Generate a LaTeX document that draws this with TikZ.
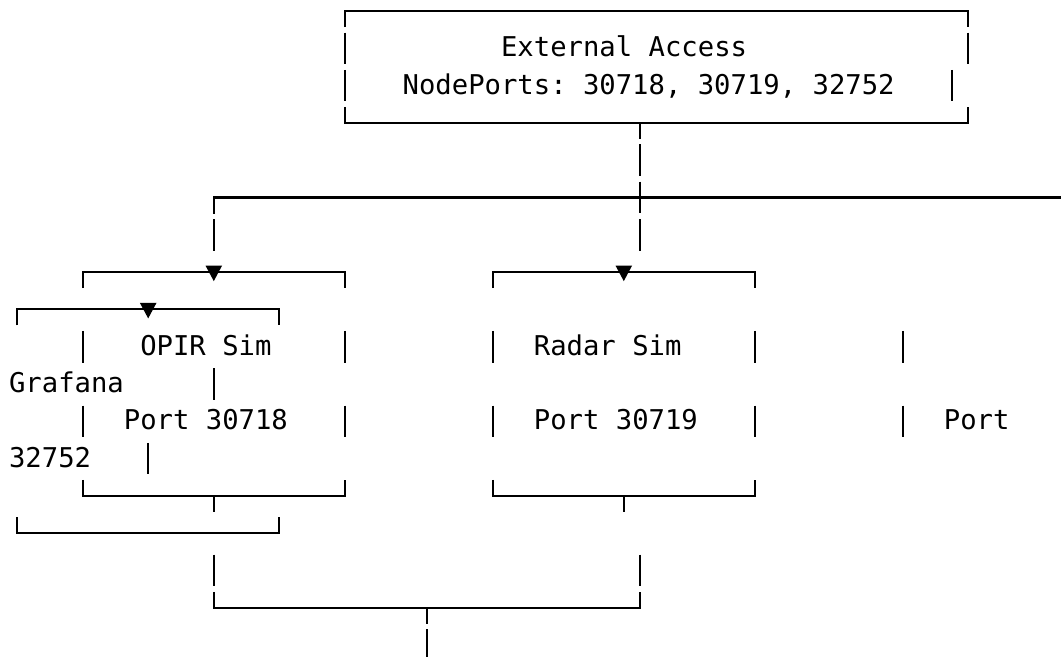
\documentclass[tikz,border=0pt]{standalone}
\usepackage{fontspec}
\setmonofont{DejaVu Sans Mono}
\newcommand\myV[2]{\draw[ln] ({cx(#1)},{ry(#2)-15.8}) -- ({cx(#1)},{ry(#2)+15.8});}
\newcommand\myD[2]{\draw[ln] ({cx(#1)},{ry(#2)}) -- ({cx(#1)},{ry(#2)+16});}
\newcommand\myTop[3]{\draw[ln] ({cx(#1)},{ry(#3)+16}) -- ({cx(#1)},{ry(#3)}) -- ({cx(#2)},{ry(#3)}) -- ({cx(#2)},{ry(#3)+16});}
\newcommand\myBot[3]{\draw[ln] ({cx(#1)},{ry(#3)-16}) -- ({cx(#1)},{ry(#3)}) -- ({cx(#2)},{ry(#3)}) -- ({cx(#2)},{ry(#3)-16});}
\newcommand\myT[2]{\fill ({cx(#1)-8.3},{ry(#2)-6.5}) -- ({cx(#1)+8.3},{ry(#2)-6.5}) -- ({cx(#1)},{ry(#2)+9}) -- cycle;}
\begin{document}
\begin{tikzpicture}[x=0.75pt,y=-0.75pt,
  declare function={cx(\c)=8.8+(\c+0.5)*16.4; tx(\c)=8.8+\c*16.4; ry(\r)=11+37.3*\r; by(\r)=11+37.3*\r+8.5;},
  ln/.style={line width=1.6pt, line cap=butt, line join=miter},
  txt/.style={anchor=base west, inner sep=0pt, font=\ttfamily\fontsize{20.43}{24}\selectfont}]
\useasboundingbox (0,0) rectangle (1061,657);
% External access box
\myTop{20}{58}{0}
\myV{20}{1} \myV{58}{1}
\node[txt] (ext) at ({tx(30)},{by(1)}) {External Access};
\myV{20}{2} \myV{57}{2}
\node[txt] (np) at ({tx(24)},{by(2)}) {NodePorts: 30718, 30719, 32752};
\myBot{20}{58}{3}
\myD{38}{3}
\myV{38}{4}
% distribution line
\draw[ln] ({cx(12)},{ry(5)+16}) -- ({cx(12)},{ry(5)}) -- (1061,{ry(5)});
\myV{38}{5}
\myV{12}{6} \myV{38}{6}
% box tops
\myTop{4}{20}{7} \myT{12}{7}
\myTop{29}{45}{7} \myT{37}{7}
\myTop{0}{16}{8} \myT{8}{8}
% rows of content
\myV{4}{9} \myV{20}{9} \myV{29}{9} \myV{45}{9} \myV{54}{9}
\node[txt] (opir) at ({tx(8)},{by(9)}) {OPIR Sim};
\node[txt] (radar) at ({tx(32)},{by(9)}) {Radar Sim};
\node[txt] (graf) at ({tx(0)},{by(10)}) {Grafana};
\myV{12}{10}
\myV{4}{11} \myV{20}{11} \myV{29}{11} \myV{45}{11} \myV{54}{11}
\node[txt] (p1) at ({tx(7)},{by(11)}) {Port 30718};
\node[txt] (p2) at ({tx(32)},{by(11)}) {Port 30719};
\node[txt] (p3) at ({tx(57)},{by(11)}) {Port};
\node[txt] (p3b) at ({tx(0)},{by(12)}) {32752};
\myV{8}{12}
% box bottoms
\myBot{4}{20}{13} \myD{12}{13}
\myBot{29}{45}{13} \myD{37}{13}
\myBot{0}{16}{14}
\myV{12}{15} \myV{38}{15}
\myBot{12}{38}{16} \myD{25}{16}
\myV{25}{17}
\end{tikzpicture}
\end{document}
